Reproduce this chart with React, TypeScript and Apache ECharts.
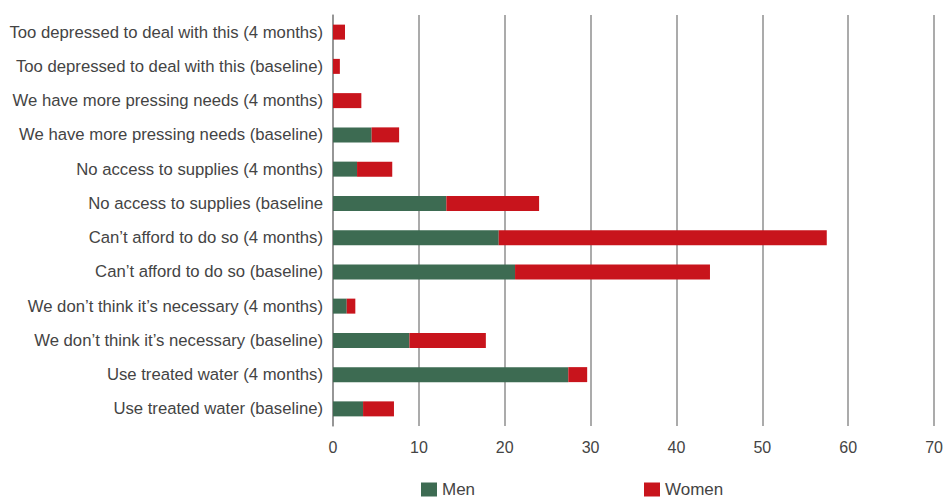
import React, { useEffect, useRef } from "react";
import * as echarts from "echarts";

const categories = [
  "Too depressed to deal with this (4 months)",
  "Too depressed to deal with this (baseline)",
  "We have more pressing needs (4 months)",
  "We have more pressing needs (baseline)",
  "No access to supplies (4 months)",
  "No access to supplies (baseline",
  "Can\u2019t afford to do so (4 months)",
  "Can\u2019t afford to do so (baseline)",
  "We don\u2019t think it\u2019s necessary (4 months)",
  "We don\u2019t think it\u2019s necessary (baseline)",
  "Use treated water (4 months)",
  "Use treated water (baseline)",
];

const men = [0, 0, 0, 4.5, 2.8, 13.2, 19.3, 21.2, 1.6, 8.9, 27.4, 3.5];
const women = [1.4, 0.8, 3.3, 3.2, 4.1, 10.8, 38.2, 22.7, 1.0, 8.9, 2.2, 3.6];

const xTicks = { min: 0, max: 70, interval: 10 };

const FONT = "'Liberation Sans', Arial, sans-serif";
const TEXT = "#444444";
const GREEN = "#3d6b52";
const RED = "#c8141c";

export default function App() {
  const ref = useRef<HTMLDivElement>(null);
  useEffect(() => {
    if (!ref.current) return;
    const chart = echarts.init(ref.current, null, { renderer: "svg" });
    const legendCommon = {
      top: 481,
      padding: 0,
      itemWidth: 16,
      itemHeight: 14,
      itemGap: 6,
      icon: "rect",
      textStyle: { fontFamily: FONT, fontSize: 17, color: TEXT },
    };
    chart.setOption({
      animation: false,
      grid: { left: 333, right: 9, top: 15, bottom: 73, containLabel: false },
      legend: [
        { ...legendCommon, data: ["Men"], left: 421 },
        { ...legendCommon, data: ["Women"], left: 644 },
      ],
      xAxis: {
        type: "value",
        min: xTicks.min,
        max: xTicks.max,
        interval: xTicks.interval,
        axisLine: { show: false },
        axisTick: { show: false },
        axisLabel: { fontFamily: FONT, fontSize: 16, color: TEXT, margin: 13 },
        splitLine: { show: true, lineStyle: { color: "#8f8f8f", width: 1.5 } },
      },
      yAxis: {
        type: "category",
        data: categories,
        inverse: true,
        axisLine: { show: true, lineStyle: { color: "#8f8f8f", width: 1.5 } },
        axisTick: { show: false },
        axisLabel: { fontFamily: FONT, fontSize: 16.7, color: TEXT, margin: 10 },
      },
      series: [
        {
          name: "Men",
          type: "bar",
          stack: "total",
          barWidth: 15,
          data: men,
          itemStyle: { color: GREEN },
        },
        {
          name: "Women",
          type: "bar",
          stack: "total",
          barWidth: 15,
          data: women,
          itemStyle: { color: RED },
        },
      ],
    });
    return () => chart.dispose();
  }, []);
  return <div ref={ref} style={{ width: 946, height: 499, position: "absolute", left: 0, top: 0 }} />;
}
